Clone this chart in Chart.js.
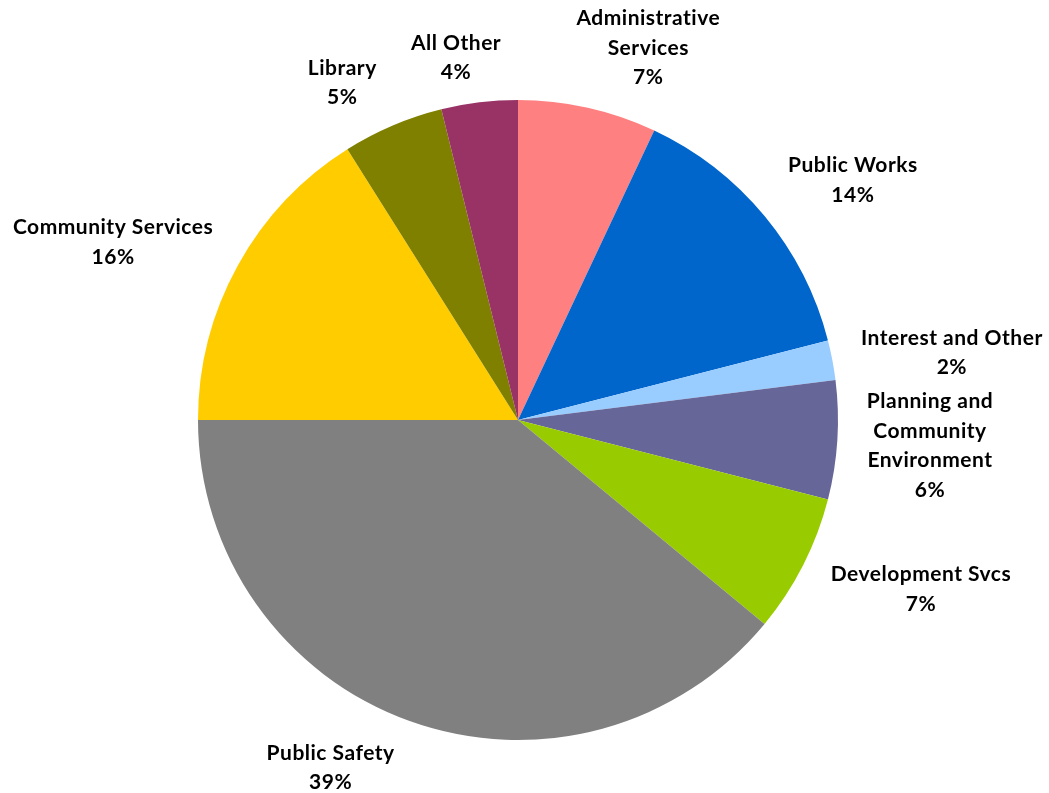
<!DOCTYPE html>
<html lang="en">
<head>
  <meta charset="UTF-8">
  <title>Expenditures by Department</title>
  <script src="https://cdn.jsdelivr.net/npm/chart.js"></script>
  <style>
    body { margin: 0; background: #ffffff; }
    #wrap { width: 1049px; height: 793px; }
  </style>
</head>
<body>
  <div id="wrap"><canvas id="pie"></canvas></div>

  <script>
    const departments = [
      ['Administrative', 'Services'],
      ['Public Works'],
      ['Interest and Other'],
      ['Planning and', 'Community', 'Environment'],
      ['Development Svcs'],
      ['Public Safety'],
      ['Community Services'],
      ['Library'],
      ['All Other']
    ];
    const shares = [7.0, 14.0, 2.0, 6.0, 7.0, 39.0, 16.05, 5.1, 3.85];
    const shareLabels = ['7%', '14%', '2%', '6%', '7%', '39%', '16%', '5%', '4%'];
    const sliceColors = ['#FF8080', '#0066CC', '#99CCFF', '#666699', '#99CC00',
                         '#808080', '#FFCC00', '#808000', '#993366'];

    // where each label block sits: angle clockwise from 12 o'clock, distance in pie radii
    const labelAngle = [19.3, 54.4, 81.2, 93.6, 112.8, 208.3, 293.7, 332.5, 350.3];
    const labelDist = [1.232, 1.287, 1.372, 1.29, 1.366, 1.235, 1.382, 1.189, 1.149];

    const labelPlugin = {
      id: 'outsideLabels',
      afterDatasetsDraw(chart) {
        const ctx = chart.ctx;
        const arcs = chart.getDatasetMeta(0).data;
        const lineH = 29.5;
        ctx.save();
        ctx.font = 'bold 21px Lato, "Open Sans", sans-serif';
        ctx.letterSpacing = '0.5px';
        ctx.fillStyle = '#000000';
        ctx.textAlign = 'center';
        ctx.textBaseline = 'middle';
        arcs.forEach((arc, i) => {
          const r = arc.outerRadius;
          const a = labelAngle[i] * Math.PI / 180;
          const cx = arc.x + Math.sin(a) * r * labelDist[i];
          const cy = arc.y - Math.cos(a) * r * labelDist[i];
          const lines = departments[i].concat([shareLabels[i]]);
          const top = cy - (lines.length - 1) * lineH / 2;
          lines.forEach((t, j) => ctx.fillText(t, cx, top + j * lineH));
        });
        ctx.restore();
      }
    };

    new Chart(document.getElementById('pie'), {
      type: 'pie',
      data: {
        labels: departments.map(d => d.join(' ')),
        datasets: [{
          data: shares,
          backgroundColor: sliceColors,
          borderWidth: 0
        }]
      },
      options: {
        responsive: true,
        maintainAspectRatio: false,
        animation: false,
        layout: { padding: { left: 198, right: 211, top: 100, bottom: 53 } },
        plugins: {
          legend: { display: false },
          tooltip: { enabled: false }
        }
      },
      plugins: [labelPlugin]
    });
  </script>
</body>
</html>
